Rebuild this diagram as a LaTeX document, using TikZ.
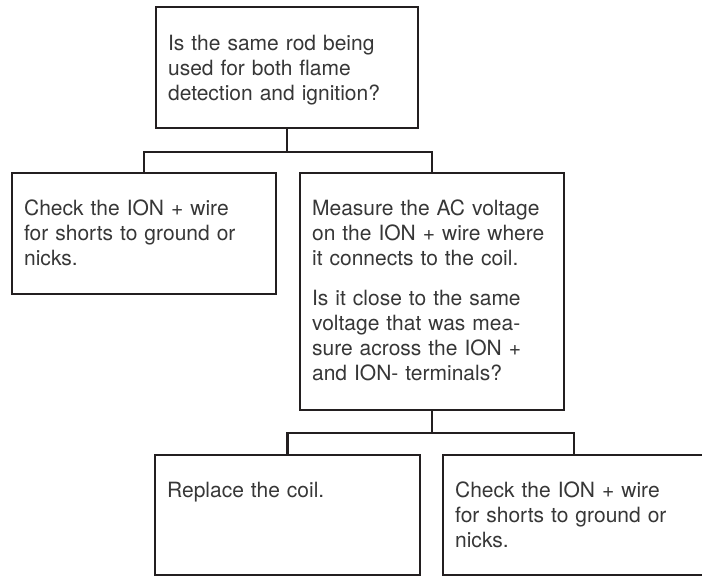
\documentclass[tikz,border=0pt]{standalone}
\usepackage{fontspec}
\setmainfont{TeX Gyre Heros}
\usetikzlibrary{calc}
\definecolor{linec}{RGB}{35,31,32}
\definecolor{textc}{RGB}{55,55,55}
\begin{document}
\begin{tikzpicture}[x=1pt,y=-1pt,
  boxnode/.style={draw=linec, line width=2.2pt, rectangle, inner sep=0pt, fill=none},
  txt/.style={anchor=north west, inner sep=0pt, text width=250pt, align=left,
    text=textc, font=\fontsize{21}{25}\selectfont},
  conn/.style={draw=linec, line width=2.2pt}]
\useasboundingbox (0,0) rectangle (702,576);
\fill[white] (0,0) rectangle (702,576);
% boxes
\node[boxnode, minimum width=262pt, minimum height=121pt] (top) at (287,67.5) {};
\node[boxnode, minimum width=264pt, minimum height=121pt] (left) at (144,233.5) {};
\node[boxnode, minimum width=264pt, minimum height=237pt] (right) at (432,291.5) {};
\node[boxnode, minimum width=265pt, minimum height=120pt] (bl) at (287.5,515) {};
\node[boxnode, minimum width=262pt, minimum height=120pt] (br) at (574,515) {};
% texts
\node[txt] (ttop) at ($(top.north west)+(13,28)$) {\rule{0pt}{16pt}Is the same rod being\\ used for both flame\\ detection and ignition?};
\node[txt] (tleft) at ($(left.north west)+(13,27)$) {\rule{0pt}{16pt}Check the ION + wire\\ for shorts to ground or\\ nicks.};
\node[txt] (tright) at ($(right.north west)+(13,27)$) {\rule{0pt}{16pt}Measure the AC voltage\\ on the ION + wire where\\ it connects to the coil.\\[15pt] Is it close to the same\\ voltage that was mea-\\ sure across the ION +\\ and ION- terminals?};
\node[txt] (tbl) at ($(bl.north west)+(13,27)$) {\rule{0pt}{16pt}Replace the coil.};
\node[txt] (tbr) at ($(br.north west)+(13,27)$) {\rule{0pt}{16pt}Check the ION + wire\\ for shorts to ground or\\ nicks.};
% connectors
\coordinate (j1) at ($(top.south)+(0,23)$);
\draw[conn] (top.south) -- (j1);
\draw[conn] (left.north) |- (j1) -| (right.north);
\coordinate (j2) at ($(right.south)+(0,22)$);
\draw[conn] (right.south) -- (j2);
\draw[conn] (bl.north) |- (j2) -| (br.north);
\end{tikzpicture}
\end{document}
